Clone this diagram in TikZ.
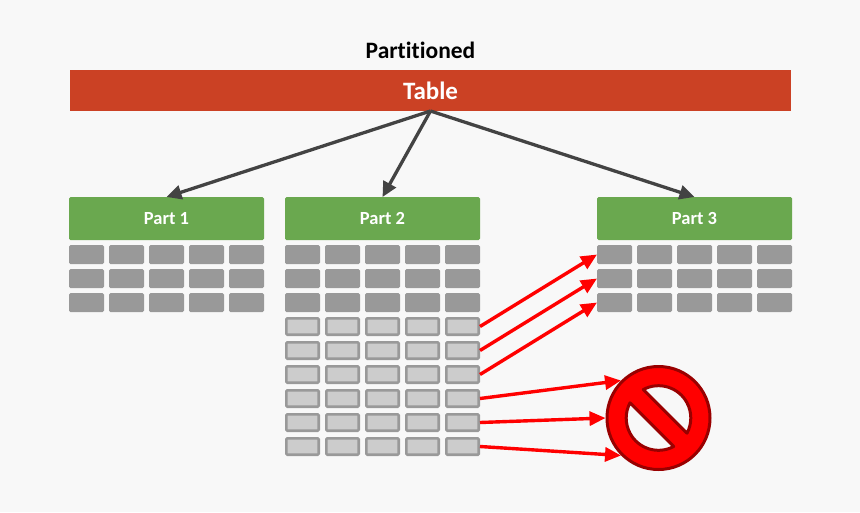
\documentclass[tikz,border=0pt]{standalone}
\usepackage{fontspec}
\setmainfont{Carlito}[RawFeature={-liga}]
\usetikzlibrary{arrows.meta}
\definecolor{pagebg}{HTML}{F8F8F8}
\definecolor{tablered}{HTML}{CB4124}
\definecolor{partgreen}{HTML}{6AA84F}
\definecolor{cellgray}{HTML}{999999}
\definecolor{celllight}{HTML}{CCCCCC}
\definecolor{linegray}{HTML}{434343}
\definecolor{stopdark}{HTML}{990000}
\tikzset{
  x=1pt,y=-1pt,
  titletext/.style={font=\fontsize{23.5}{25}\selectfont\bfseries,text=black,inner sep=0pt},
  tablebar/.style={fill=tablered,text=white,font=\fontsize{25}{27}\selectfont\bfseries,minimum width=721pt,minimum height=41pt,inner sep=0pt,outer sep=0pt},
  parthead/.style={fill=partgreen,text=white,font=\fontsize{18.5}{20}\selectfont\bfseries,minimum width=195pt,minimum height=43pt,inner sep=0pt,outer sep=0pt,rounded corners=1.5pt},
  cellfull/.style={fill=cellgray,minimum width=35pt,minimum height=19pt,inner sep=0pt,outer sep=0pt,rounded corners=1.5pt},
  celledge/.style={draw=cellgray,fill=celllight,line width=2.6pt,minimum width=32.4pt,minimum height=16.4pt,inner sep=0pt,outer sep=auto,rounded corners=1pt},
  treearrow/.style={draw=linegray,line width=3.3pt,-{Triangle[length=15pt,width=14pt]}},
  redarrow/.style={draw=red,line width=3.4pt,-{Triangle[length=16pt,width=14pt]}},
  stopring/.style={circle,draw=stopdark,fill=red,line width=3pt,minimum size=103pt,inner sep=0pt,outer sep=auto},
  stophole/.style={draw=stopdark,fill=pagebg,line width=3pt,line join=round},
}
\begin{document}
\begin{tikzpicture}
\useasboundingbox[fill=pagebg] (0,0) rectangle (860,512);
\node[titletext] (title) at (420.5,50.5) {Partitioned};
\node[tablebar] (table) at (430.5,90.5) {Table};
\node[parthead] (part1) at (166.5,218.5) {Part 1};
\node[parthead] (part2) at (382.5,218.5) {Part 2};
\node[parthead] (part3) at (694.5,218.5) {Part 3};
\foreach \p/\b in {1/69,2/285,3/597}
  \foreach \r in {1,2,3}
    \foreach \c in {1,...,5}
      \node[cellfull] (p\p r\r c\c) at ({\b+17.5+40*(\c-1)},{254.5+24*(\r-1)}) {};
\foreach \r in {4,...,9}
  \foreach \c in {1,...,5}
    \node[celledge] (p2r\r c\c) at ({285+17.5+40*(\c-1)},{254.5+24*(\r-1)}) {};
\node[stopring] (stop) at (658.5,418) {};
\draw[stophole] (stop.center) ++(-118:32.3) arc[start angle=-118,end angle=28,radius=32.3] -- cycle;
\draw[stophole] (stop.center) ++(62:32.3) arc[start angle=62,end angle=208,radius=32.3] -- cycle;
\draw[treearrow] (table.south) -- (part1.north);
\draw[treearrow] (table.south) -- (part2.north);
\draw[treearrow] (table.south) -- (part3.north);
\draw[redarrow] (p2r4c5.east) -- (p3r1c1.west);
\draw[redarrow] (p2r5c5.east) -- (p3r2c1.west);
\draw[redarrow] (p2r6c5.east) -- (p3r3c1.west);
\draw[redarrow] (p2r7c5.east) -- (stop.135);
\draw[redarrow] (p2r8c5.east) -- (stop.180);
\draw[redarrow] (p2r9c5.east) -- (stop.225);
\end{tikzpicture}
\end{document}
